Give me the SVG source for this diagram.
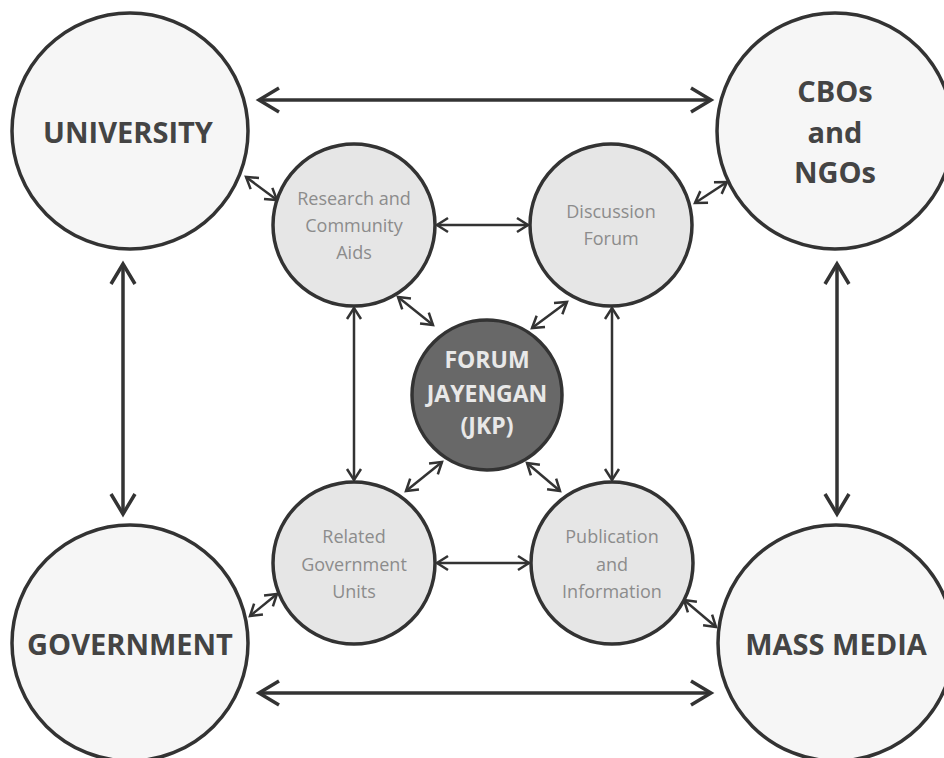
<svg xmlns="http://www.w3.org/2000/svg" width="944" height="758" viewBox="0 0 944 758">
<style>
.outer{fill:#f6f6f6;stroke:#333;stroke-width:3.5}
.inner{fill:#e6e6e6;stroke:#333;stroke-width:3.5}
.core{fill:#686868;stroke:#333;stroke-width:3.5}
.big{font-family:"Open Sans","Liberation Sans",sans-serif;font-weight:700;font-size:29px;fill:#444;text-anchor:middle}
.small{font-family:"Open Sans","Liberation Sans",sans-serif;font-size:18px;fill:#8c8c8c;text-anchor:middle}
.coret{font-family:"Open Sans","Liberation Sans",sans-serif;font-weight:700;font-size:23px;fill:#e8e8e8;text-anchor:middle}
.bl{stroke:#333;stroke-width:3.5;fill:none;marker-start:url(#hb);marker-end:url(#hb)}
.sl{stroke:#333;stroke-width:2.5;fill:none;marker-start:url(#hs);marker-end:url(#hs)}
</style>
<defs>
<marker id="hb" markerUnits="userSpaceOnUse" viewBox="-30 -20 40 40" markerWidth="40" markerHeight="40" refX="0" refY="0" orient="auto-start-reverse">
<path d="M-20,-12 L0,0 L-20,12" fill="none" stroke="#333" stroke-width="3.5"/>
</marker>
<marker id="hs" markerUnits="userSpaceOnUse" viewBox="-20 -15 30 30" markerWidth="30" markerHeight="30" refX="0" refY="0" orient="auto-start-reverse">
<path d="M-11,-7 L0,0 L-11,7" fill="none" stroke="#333" stroke-width="2.5"/>
</marker>
</defs>
<rect width="944" height="758" fill="#ffffff"/>
<g id="connectors">
<line class="bl" x1="259" y1="100" x2="711" y2="100"/>
<line class="bl" x1="259" y1="693" x2="711" y2="693"/>
<line class="bl" x1="123" y1="264" x2="123" y2="514"/>
<line class="bl" x1="837" y1="264" x2="837" y2="514"/>
<line class="sl" x1="437" y1="225" x2="528" y2="225"/>
<line class="sl" x1="437" y1="563" x2="529" y2="563"/>
<line class="sl" x1="354" y1="308" x2="354" y2="480"/>
<line class="sl" x1="612" y1="308" x2="612" y2="480"/>
<line class="sl" x1="398" y1="297" x2="433" y2="325"/>
<line class="sl" x1="567" y1="302" x2="532" y2="328"/>
<line class="sl" x1="442" y1="462" x2="406" y2="491"/>
<line class="sl" x1="527" y1="463" x2="560" y2="491"/>
<line class="sl" x1="246" y1="177" x2="277" y2="200"/>
<line class="sl" x1="727" y1="182" x2="695" y2="203"/>
<line class="sl" x1="250" y1="616" x2="277" y2="594"/>
<line class="sl" x1="684" y1="600" x2="716" y2="627"/>
</g>
<g id="university">
<circle class="outer" cx="130" cy="131" r="118"/>
<text class="big" x="128" y="143">UNIVERSITY</text>
</g>
<g id="cbos">
<circle class="outer" cx="835" cy="131" r="118"/>
<text class="big" x="835" y="102">CBOs</text>
<text class="big" x="835" y="143">and</text>
<text class="big" x="835" y="183">NGOs</text>
</g>
<g id="government">
<circle class="outer" cx="130" cy="643" r="118"/>
<text class="big" x="130" y="655">GOVERNMENT</text>
</g>
<g id="massmedia">
<circle class="outer" cx="836" cy="643" r="118"/>
<text class="big" x="836" y="655">MASS MEDIA</text>
</g>
<g id="research">
<circle class="inner" cx="354" cy="225" r="81"/>
<text class="small" x="354" y="205">Research and</text>
<text class="small" x="354" y="232">Community</text>
<text class="small" x="354" y="259">Aids</text>
</g>
<g id="discussion">
<circle class="inner" cx="611" cy="225" r="81"/>
<text class="small" x="611" y="218">Discussion</text>
<text class="small" x="611" y="245">Forum</text>
</g>
<g id="related">
<circle class="inner" cx="354" cy="563" r="81"/>
<text class="small" x="354" y="543">Related</text>
<text class="small" x="354" y="571">Government</text>
<text class="small" x="354" y="598">Units</text>
</g>
<g id="publication">
<circle class="inner" cx="612" cy="563" r="81"/>
<text class="small" x="612" y="543">Publication</text>
<text class="small" x="612" y="571">and</text>
<text class="small" x="612" y="598">Information</text>
</g>
<g id="jkp">
<circle class="core" cx="487" cy="395" r="75"/>
<text class="coret" x="487" y="368">FORUM</text>
<text class="coret" x="487" y="402">JAYENGAN</text>
<text class="coret" x="487" y="434">(JKP)</text>
</g>
</svg>
